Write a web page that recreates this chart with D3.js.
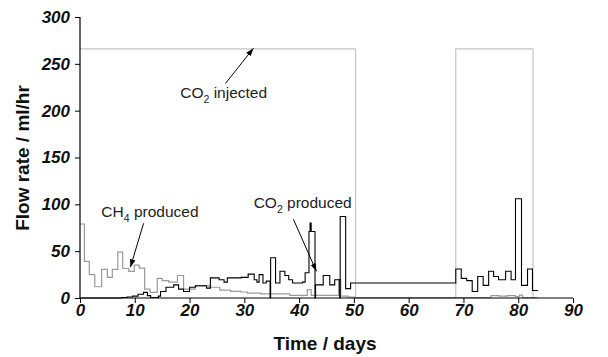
<!DOCTYPE html>
<html>
<head>
<meta charset="utf-8">
<script src="https://cdn.jsdelivr.net/npm/d3@7"></script>
<style>
  html, body { margin: 0; padding: 0; background: #fff; }
  svg { display: block; }
</style>
</head>
<body>
<svg id="chart" width="608" height="357"></svg>
<script>
// ---- data ----
const xTicks = [0, 10, 20, 30, 40, 50, 60, 70, 80, 90];
const yTicks = [0, 50, 100, 150, 200, 250, 300];

const injectedDays   = [0, 50.3, 68.6, 82.7];
const injectedValues = [266, 0, 266, 0];

const ch4Days = [0, 0.8, 1.7, 2.7, 3.95, 5.0, 5.9, 6.9, 7.8, 8.9, 9.9, 10.8, 11.8, 12.8, 14.1, 15.0, 16.2, 17.8, 18.9, 21.0, 23.7, 25.5, 27.5, 29.4, 30.6, 33.0, 38.3, 41.5, 42.2, 47.2, 47.6, 49.0, 50.3, 74.5, 75.0, 76.5, 78.0, 79.5, 80.2, 80.8, 83.5];
const ch4Values = [79, 39, 25, 12, 30.5, 22, 30.5, 49, 31.5, 28.5, 35, 32, 9.5, 6, 21, 18.5, 17, 24, 9.5, 13, 11.5, 8.5, 7, 6.4, 5.3, 4.3, 2.8, 9, 2.8, 20, 2, 1, 0.4, 0.4, 2.5, 2, 2.5, 1.5, 3, 0.4, 0.4];

const co2Days = [0, 7.6, 8.6, 9.6, 10.6, 11.6, 12.3, 12.9, 14.3, 14.7, 15.7, 17.1, 18.0, 18.9, 20.0, 21.1, 23.1, 23.8, 25.4, 26.3, 26.9, 29.4, 30.7, 31.8, 32.3, 32.7, 33.4, 34.0, 34.7, 34.8, 35.7, 36.5, 37.4, 38.1, 38.8, 40.6, 41.1, 41.8, 42.0, 42.2, 42.9, 43.0, 44.4, 45.6, 46.5, 47.4, 47.5, 48.5, 49.4, 68.6, 69.6, 70.6, 71.6, 72.6, 73.6, 74.6, 75.5, 76.4, 77.7, 78.7, 79.5, 80.6, 81.7, 82.6, 83.6];
const co2Values = [0, 0.5, 1, 2, 4, 6, 2.5, 0.5, 2, 7, 11.5, 14, 9.5, 7, 11.5, 13, 10.5, 21.5, 19.5, 17, 21.5, 22, 25.5, 19.5, 17, 25, 16, 18, 0, 43, 16, 28.5, 24, 19.5, 16, 17, 27, 71, 80, 71, 0, 14, 24, 14, 19.5, 0, 87, 10, 16, 31, 21, 18.5, 7, 23, 13.5, 28.5, 23, 19.5, 28.5, 19.5, 106, 13.5, 31, 8, 8];

const notes = [
  { main: "CO", sub: "2", rest: " injected", day: 18.3, val: 213, fromDay: 26.55, fromVal: 229, toDay: 31.66, toVal: 266.6 },
  { main: "CH", sub: "4", rest: " produced", day: 3.9, val: 86, fromDay: 11.6, fromVal: 79.7, toDay: 9.2, toVal: 32.8 },
  { main: "CO", sub: "2", rest: " produced", day: 31.7, val: 95.8, fromDay: 38.96, fromVal: 84, toDay: 43.16, toVal: 28.5 }
];

// ---- drawing ----
const svg = d3.select("#chart");
const x = d3.scaleLinear().domain([0, 90]).range([80, 573]);
const y = d3.scaleLinear().domain([0, 300]).range([298, 17]);

const zip = (a, b) => a.map((d, i) => [d, b[i]]);
const line = d3.line().x(d => x(d[0])).y(d => y(d[1])).curve(d3.curveStepAfter);

svg.append("path").datum(zip(injectedDays, injectedValues))
  .attr("d", line).attr("fill", "none").attr("stroke", "#c4c4c4").attr("stroke-width", 1.2);
svg.append("path").datum(zip(ch4Days, ch4Values))
  .attr("d", line).attr("fill", "none").attr("stroke", "#9a9a9a").attr("stroke-width", 1.2);
svg.append("path").datum(zip(co2Days, co2Values))
  .attr("d", line).attr("fill", "none").attr("stroke", "#000").attr("stroke-width", 1.1);

// axes
const tickFont = "'Liberation Sans', Arial, sans-serif";
const xAxis = svg.append("g").attr("transform", `translate(0,${y(0)})`)
  .call(d3.axisBottom(x).tickValues(xTicks).tickSize(5).tickPadding(1));
const yAxis = svg.append("g").attr("transform", `translate(${x(0)},0)`)
  .call(d3.axisLeft(y).tickValues(yTicks).tickSize(5).tickPadding(5));
[xAxis, yAxis].forEach(g => {
  g.select(".domain").attr("stroke", "#000").attr("stroke-width", 1.2);
  g.selectAll(".tick line").attr("stroke", "#000").attr("stroke-width", 1);
  g.selectAll(".tick text")
    .attr("font-family", tickFont).attr("font-size", 17)
    .attr("font-weight", "bold").attr("font-style", "italic").attr("fill", "#111");
});
xAxis.selectAll(".domain").attr("d", `M${x(0)},0H${x(90)}`);
yAxis.selectAll(".domain").attr("d", `M0,${y(0)}V${y(300)}`);

// titles
svg.append("text").attr("x", 325).attr("y", 350).attr("text-anchor", "middle")
  .attr("font-family", tickFont).attr("font-size", 19).attr("font-weight", "bold").attr("fill", "#111")
  .text("Time / days");
svg.append("text").attr("transform", "translate(29,158) rotate(-90)").attr("text-anchor", "middle")
  .attr("font-family", tickFont).attr("font-size", 19).attr("font-weight", "bold").attr("fill", "#111")
  .text("Flow rate / ml/hr");

// annotations
svg.append("defs").append("marker").attr("id", "arrow")
  .attr("viewBox", "0 0 10 10").attr("refX", 10).attr("refY", 5)
  .attr("markerWidth", 8).attr("markerHeight", 8).attr("orient", "auto")
  .append("path").attr("d", "M0,1.5L10,5L0,8.5Z").attr("fill", "#000");

notes.forEach(n => {
  const t = svg.append("text").attr("x", x(n.day)).attr("y", y(n.val))
    .attr("font-family", tickFont).attr("font-size", 15.5).attr("fill", "#222");
  t.append("tspan").text(n.main);
  t.append("tspan").attr("font-size", 10.5).attr("dy", 4.5).text(n.sub);
  t.append("tspan").attr("dy", -4.5).text(n.rest);
  svg.append("line")
    .attr("x1", x(n.fromDay)).attr("y1", y(n.fromVal))
    .attr("x2", x(n.toDay)).attr("y2", y(n.toVal))
    .attr("stroke", "#000").attr("stroke-width", 1).attr("marker-end", "url(#arrow)");
});
</script>
</body>
</html>
